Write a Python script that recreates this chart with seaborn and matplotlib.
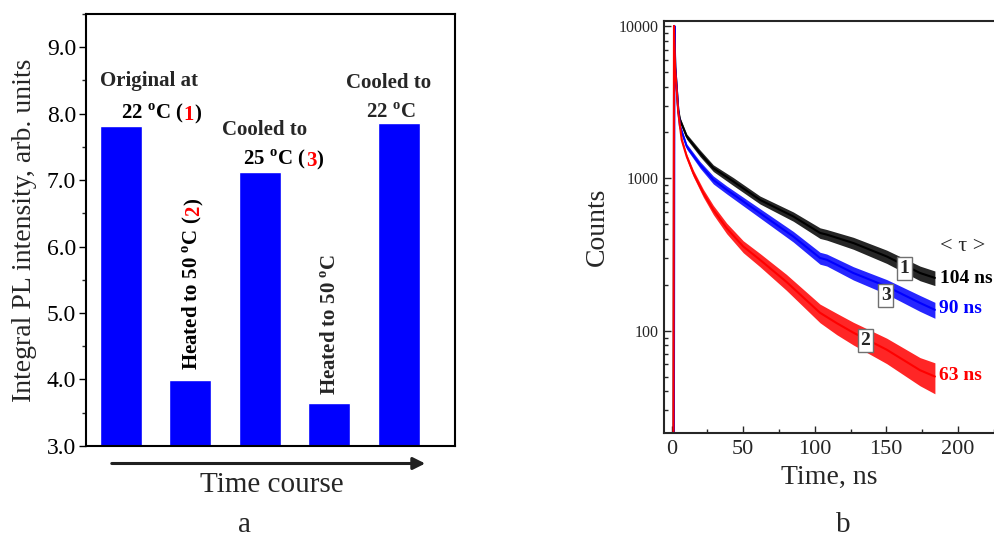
import numpy as np
import pandas as pd
import matplotlib
matplotlib.use('Agg')
import matplotlib.pyplot as plt
import matplotlib.ticker as mticker
import seaborn as sns

# %%
# Panel a data: integral PL intensity over the heating / cooling course
steps = ['s1', 's2', 's3', 's4', 's5']
pl_intensity = [7.82, 3.99, 7.12, 3.64, 7.86]

# Panel b data: PL decay curves (time in ns, counts)
t_black = [1.3, 1.7, 2.5, 4.6, 5.8, 10.5, 19.8, 29.1, 43.1, 61.7, 85.0, 103.7,
           108.4, 127.0, 150.3, 173.6, 184.0]
c_black = [10, 10000, 5400, 2810, 2420, 1880, 1462, 1167, 953, 722, 562, 438,
           427, 376, 307, 239, 222]
# half width of the noise band (fraction of counts)
s_black = [0, 0, 0.02, 0.03, 0.04, 0.04, 0.05, 0.05, 0.06, 0.06, 0.07, 0.08,
           0.08, 0.09, 0.10, 0.11, 0.11]

t_blue = [1.5, 1.9, 2.5, 4.6, 5.8, 10.5, 19.8, 29.1, 38.4, 61.7, 85.0, 103.7,
          108.4, 127.0, 150.3, 173.6, 184.0]
c_blue = [10, 10000, 5400, 2810, 2185, 1618, 1228, 977, 841, 591, 415, 300,
          292, 239, 195, 152, 137]
s_blue = [0, 0, 0.02, 0.03, 0.04, 0.04, 0.05, 0.06, 0.06, 0.07, 0.08, 0.09,
          0.09, 0.10, 0.11, 0.12, 0.12]

t_red = [1.2, 1.6, 2.4, 4.6, 7.0, 10.5, 15.1, 22.1, 29.1, 38.4, 50.0, 61.7,
         80.2, 103.7, 115.4, 127.0, 150.3, 173.6, 184.0]
c_red = [10, 10000, 5300, 2700, 1786, 1390, 1081, 800, 621, 471, 357, 292,
         209, 131, 112, 97, 75, 55, 50]
s_red = [0, 0, 0.02, 0.03, 0.04, 0.04, 0.05, 0.06, 0.07, 0.08, 0.09, 0.10,
         0.12, 0.14, 0.16, 0.17, 0.19, 0.21, 0.23]

# %%
sns.set_theme(style='ticks')
plt.rcParams['font.family'] = ['Liberation Serif', 'DejaVu Serif']
plt.rcParams['mathtext.fontset'] = 'custom'
plt.rcParams['mathtext.rm'] = 'Liberation Serif'
plt.rcParams['mathtext.bf'] = 'Liberation Serif:bold'
plt.rcParams['axes.linewidth'] = 1.5

fig = plt.figure(figsize=(9.95, 5.4), dpi=100)
ax_a = fig.add_axes([0.0864, 0.1741, 0.3709, 0.8003])
ax_b = fig.add_axes([0.6673, 0.1976, 0.3327, 0.7641])

# %%
# Panel a
df_a = pd.DataFrame({'step': steps, 'intensity': pl_intensity})
sns.barplot(data=df_a, x='step', y='intensity', color='#0000ff', saturation=1,
            width=0.605, ax=ax_a)
ax_a.set_xlim(-0.5, 4.81)
ax_a.set_ylim(3.0, 9.5)
ax_a.set_xticks([])
ax_a.set_xlabel('')
ax_a.set_ylabel('Integral PL intensity, arb. units', fontsize=20, labelpad=7)
ax_a.yaxis.set_major_locator(mticker.MultipleLocator(1.0))
ax_a.yaxis.set_minor_locator(mticker.MultipleLocator(0.5))
ax_a.yaxis.set_major_formatter(mticker.FormatStrFormatter('%.1f'))
ax_a.tick_params(axis='y', which='major', direction='out', length=5, width=1,
                 labelsize=17, pad=2, colors='black')
ax_a.tick_params(axis='y', which='minor', direction='out', length=3, width=1)
for sp in ax_a.spines.values():
    sp.set_visible(True)
    sp.set_color('black')


def multicolor(ax, x, y, parts, rotation=0, **kw):
    # draw text pieces one after another, each with its own colour
    first, col = parts[0]
    if rotation == 0:
        t = ax.text(x, y, first, color=col, ha='left', va='baseline', **kw)
    else:
        t = ax.text(x, y, first, color=col, ha='center', va='bottom',
                    rotation=90, **kw)
    for txt, col in parts[1:]:
        if rotation == 0:
            t = ax.annotate(txt, xy=(1, 0), xycoords=t, ha='left', va='bottom',
                            color=col, **kw)
        else:
            t = ax.annotate(txt, xy=(1, 1), xycoords=t, ha='right', va='bottom',
                            rotation=90, color=col, **kw)
    return t


bold = dict(fontsize=15, fontweight='bold')
deg = r'$^{\mathbf{o}}$'
ax_a.text(0.406, 8.41, 'Original at', ha='center', va='baseline', **bold)
multicolor(ax_a, 0.004, 7.93, [('22 ' + deg + 'C (', 'black'), ('1', 'red'), (')', 'black')], **bold)
ax_a.text(2.076, 7.68, 'Cooled to', ha='center', va='baseline', **bold)
multicolor(ax_a, 1.766, 7.235, [('25 ' + deg + 'C (', 'black'), ('3', 'red'), (')', 'black')], **bold)
ax_a.text(3.854, 8.39, 'Cooled to', ha='center', va='baseline', **bold)
ax_a.text(3.88, 7.93, '22 ' + deg + 'C', ha='center', va='baseline', **bold)
multicolor(ax_a, 1.025, 4.14, [('Heated to 50 ' + deg + 'C (', 'black'), ('2', 'red'), (')', 'black')],
           rotation=90, **bold)
ax_a.text(3.025, 3.76, 'Heated to 50 ' + deg + 'C', ha='center', va='bottom',
          rotation=90, **bold)

# time course arrow
fig.patches.append(matplotlib.patches.FancyArrowPatch(
    (109 / 995, 1 - 463.5 / 540), (428 / 995, 1 - 463.5 / 540),
    transform=fig.transFigure, arrowstyle='-|>', mutation_scale=18,
    linewidth=2.2, color='#202020'))
fig.text(271.7 / 995, 1 - 485 / 540, 'Time course', ha='center', va='center', fontsize=21)
fig.text(245 / 995, 1 - 525 / 540, 'a', ha='center', va='center', fontsize=21)

# %%
# Panel b
curves = [(t_black, c_black, s_black, 'black'),
          (t_blue, c_blue, s_blue, '#0000ff'),
          (t_red, c_red, s_red, '#ff0000')]
for tt, cc, ss, colr in curves:
    cc_arr = np.array(cc, dtype=float)
    ss_arr = np.array(ss)
    ax_b.fill_between(tt, cc_arr * (1 - ss_arr), cc_arr * (1 + ss_arr),
                      color=colr, linewidth=0, alpha=0.85)
    sns.lineplot(x=tt, y=cc, color=colr, linewidth=1.5, estimator=None, ax=ax_b)
ax_b.set_yscale('log')
ax_b.set_xlim(-5.4, 226)
ax_b.set_ylim(21.2, 10830)
ax_b.xaxis.set_major_locator(mticker.MultipleLocator(50))
ax_b.xaxis.set_minor_locator(mticker.MultipleLocator(25))
ax_b.yaxis.set_major_locator(mticker.LogLocator(base=10, numticks=10))
ax_b.yaxis.set_minor_locator(mticker.LogLocator(base=10, subs=np.arange(2, 10), numticks=10))
ax_b.yaxis.set_major_formatter(mticker.FuncFormatter(lambda v, p: f'{v:.0f}'))
ax_b.yaxis.set_minor_formatter(mticker.NullFormatter())
ax_b.tick_params(axis='x', which='both', direction='in', labelsize=16, width=1, pad=5)
ax_b.tick_params(axis='x', which='major', length=5)
ax_b.tick_params(axis='x', which='minor', length=3)
ax_b.tick_params(axis='y', which='both', direction='in', labelsize=11.5, width=1, pad=4)
ax_b.tick_params(axis='y', which='major', length=5)
ax_b.tick_params(axis='y', which='minor', length=3)
ax_b.spines['right'].set_visible(False)
ax_b.set_xlabel('Time, ns', fontsize=20, labelpad=4)
ax_b.set_ylabel('Counts', fontsize=20, labelpad=6)

box = dict(boxstyle='square,pad=0.15', facecolor='white', edgecolor='#707070', linewidth=1)
ax_b.text(162.8, 255, '1', ha='center', va='center', fontsize=14, fontweight='bold', bbox=box)
ax_b.text(149.6, 170, '3', ha='center', va='center', fontsize=14, fontweight='bold', bbox=box)
ax_b.text(135.5, 86.7, '2', ha='center', va='center', fontsize=14, fontweight='bold', bbox=box)
ax_b.text(203.7, 357, '< τ >', ha='center', va='center', fontsize=16)
ax_b.text(187.6, 219, '104 ns', ha='left', va='center', fontsize=14, fontweight='bold', color='black')
ax_b.text(186.9, 139, '90 ns', ha='left', va='center', fontsize=14, fontweight='bold', color='#0000ff')
ax_b.text(186.9, 50.7, '63 ns', ha='left', va='center', fontsize=14, fontweight='bold', color='#ff0000')

fig.text(843 / 995, 1 - 525 / 540, 'b', ha='center', va='center', fontsize=21)

fig.savefig('out.png', dpi=100)
